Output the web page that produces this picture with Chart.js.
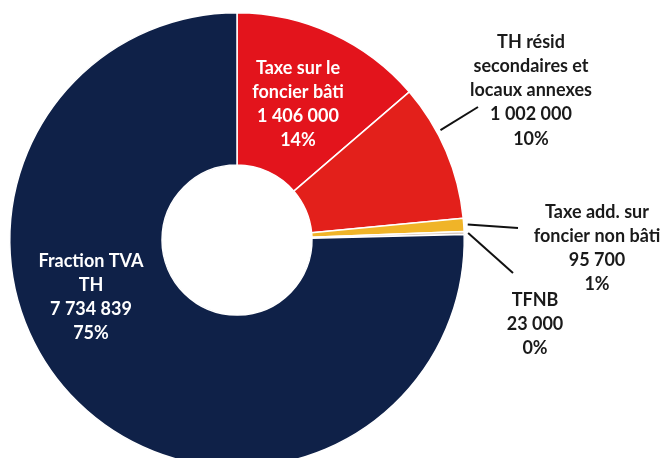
<!DOCTYPE html>
<html>
<head>
<meta charset="utf-8">
<script src="https://cdn.jsdelivr.net/npm/chart.js@4/dist/chart.umd.min.js"></script>
<style>
  html, body { margin: 0; padding: 0; background: #fff; overflow: hidden; }
  #wrap { width: 665px; height: 458px; overflow: hidden; position: relative; }
  canvas { position: absolute; left: 0; top: 0; }
</style>
</head>
<body>
<div id="wrap"><canvas id="chart" width="665" height="490"></canvas></div>
<script>
const categories = ['Taxe sur le foncier bâti', 'TH résid secondaires et locaux annexes', 'Taxe add. sur foncier non bâti', 'TFNB', 'Fraction TVA TH'];
const values = [1406000, 1002000, 95700, 23000, 7734839];
const valueLabels = ['1 406 000', '1 002 000', '95 700', '23 000', '7 734 839'];
const percentLabels = ['14%', '10%', '1%', '0%', '75%'];
const labelLines = [
  ['Taxe sur le', 'foncier bâti'],
  ['TH résid', 'secondaires et', 'locaux annexes'],
  ['Taxe add. sur', 'foncier non bâti'],
  ['TFNB'],
  ['Fraction TVA', 'TH']
];
const colors = ['#e3141c', '#e3201b', '#f0b428', '#d8c8bc', '#0f2148'];

// label placement (x, y of first line, text colour, leader line)
const labelPos = [
  { x: 298, y: 68, color: '#ffffff' },
  { x: 531, y: 42, color: '#1a1a1a', lead: { f: 0.35, x: 478, y: 107 } },
  { x: 597, y: 212, color: '#1a1a1a', lead: { f: 0.5, x: 518, y: 228 } },
  { x: 535, y: 300, color: '#1a1a1a', lead: { f: 0.5, x: 513, y: 273 } },
  { x: 91, y: 261, color: '#ffffff' }
];

const labelPlugin = {
  id: 'sliceLabels',
  afterDatasetsDraw(chart) {
    const ctx = chart.ctx;
    const arcs = chart.getDatasetMeta(0).data;
    ctx.save();
    ctx.font = 'bold 18px Lato, "Open Sans", sans-serif';
    ctx.textAlign = 'center';
    ctx.textBaseline = 'middle';
    arcs.forEach((arc, i) => {
      const p = labelPos[i];
      const lines = labelLines[i].concat([valueLabels[i], percentLabels[i]]);
      ctx.fillStyle = p.color;
      lines.forEach((t, k) => ctx.fillText(t, p.x, p.y + k * 24.2));
      if (p.lead) {
        const a = arc.startAngle + (arc.endAngle - arc.startAngle) * p.lead.f;
        const r = arc.outerRadius + 4;
        ctx.beginPath();
        ctx.moveTo(arc.x + Math.cos(a) * r, arc.y + Math.sin(a) * r);
        ctx.lineTo(p.lead.x, p.lead.y);
        ctx.strokeStyle = '#111';
        ctx.lineWidth = 2;
        ctx.stroke();
      }
    });
    ctx.restore();
  }
};

new Chart(document.getElementById('chart').getContext('2d'), {
  type: 'doughnut',
  data: {
    labels: categories,
    datasets: [{
      data: values,
      backgroundColor: colors,
      borderColor: '#ffffff',
      borderWidth: 1.5
    }]
  },
  options: {
    responsive: false,
    animation: false,
    cutout: '33%',
    layout: { padding: { left: 8, right: 199, top: 12, bottom: 22 } },
    plugins: {
      legend: { display: false },
      tooltip: { enabled: false }
    }
  },
  plugins: [labelPlugin]
});
</script>
</body>
</html>
